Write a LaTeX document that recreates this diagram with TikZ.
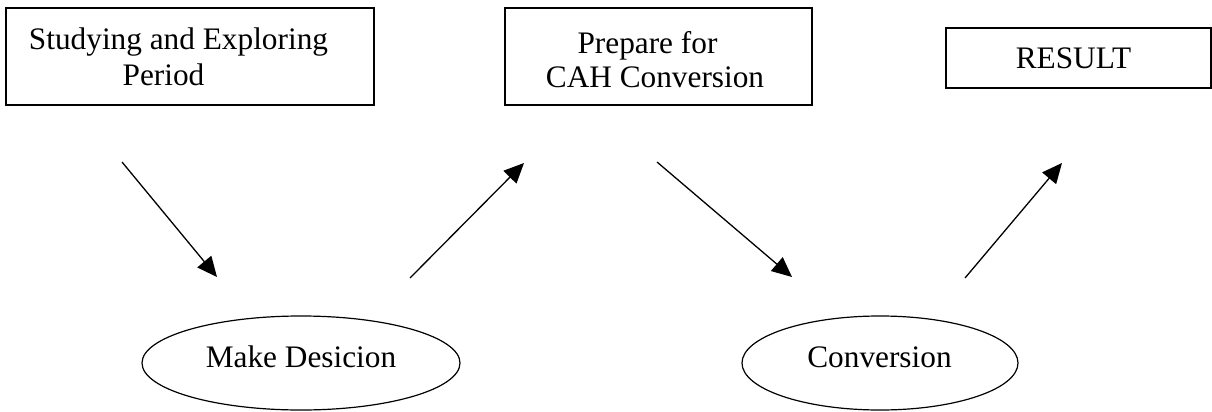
\documentclass[tikz,border=0pt]{standalone}
\usepackage{fontspec}
\setmainfont{Liberation Serif}
\usetikzlibrary{shapes.geometric,arrows.meta}
\begin{document}
\begin{tikzpicture}[x=1pt,y=-1pt,
  boxshape/.style={draw,line width=1.6pt,rectangle,inner sep=0pt},
  ovalshape/.style={draw,line width=1.2pt,ellipse,inner sep=0pt},
  lbl/.style={anchor=base,inner sep=0pt,font=\fontsize{31.3}{35}\selectfont},
  flow/.style={line width=1.3pt,-{Triangle[length=20pt,width=18pt]}}]
\useasboundingbox (0,0) rectangle (1212,412);
% boxes
\node[boxshape,minimum width=368pt,minimum height=97pt] (b1) at (190,56.5) {};
\node[boxshape,minimum width=307pt,minimum height=97pt] (b2) at (658.5,56.5) {};
\node[boxshape,minimum width=265pt,minimum height=60pt] (b3) at (1078.5,58) {};
% ellipses
\node[ovalshape,minimum width=318pt,minimum height=94pt] (e1) at (301,363) {};
\node[ovalshape,minimum width=276pt,minimum height=94pt] (e2) at (880,363) {};
% texts
\node[lbl] (t1a) at (178.5,50) {Studying and Exploring};
\node[lbl] (t1b) at (163.5,85) {Period};
\node[lbl] (t2a) at (647.5,53) {Prepare for};
\node[lbl] (t2b) at (655,88) {CAH Conversion};
\node[lbl] (t3) at (1073.5,68) {RESULT};
\node[lbl] (t4) at (301,367) {Make Desicion};
\node[lbl] (t5) at (879.5,367) {Conversion};
% arrow end points
\coordinate (a1s) at (122,162);
\coordinate (a1e) at (217,277);
\coordinate (a2s) at (410,278);
\coordinate (a2e) at (524,163);
\coordinate (a3s) at (657,162);
\coordinate (a3e) at (792,277);
\coordinate (a4s) at (965,278);
\coordinate (a4e) at (1062,163);
\draw[flow] (a1s) -- (a1e);
\draw[flow] (a2s) -- (a2e);
\draw[flow] (a3s) -- (a3e);
\draw[flow] (a4s) -- (a4e);
\end{tikzpicture}
\end{document}
